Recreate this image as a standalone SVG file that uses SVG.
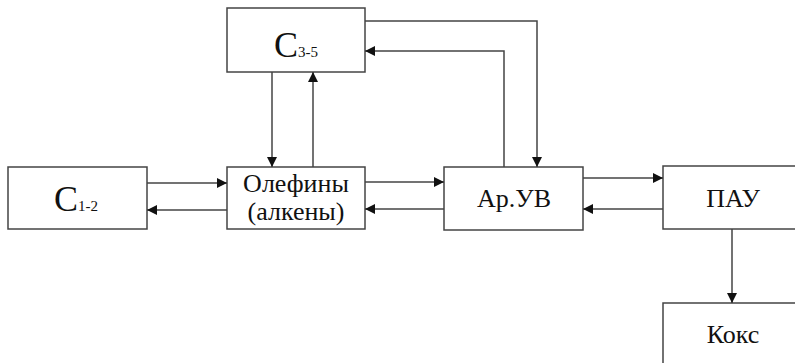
<svg xmlns="http://www.w3.org/2000/svg" width="795" height="363" viewBox="0 0 795 363">
<defs>
<marker id="ah" viewBox="0 0 10 10" refX="10" refY="5" markerWidth="10" markerHeight="10" markerUnits="userSpaceOnUse" orient="auto">
<path d="M0,0 L10,5 L0,10 z" fill="#111"/>
</marker>
<style>
.box{fill:#fff;stroke:#444;stroke-width:1.5}
.ln{fill:none;stroke:#444;stroke-width:1.5;marker-end:url(#ah)}
</style>
</defs>
<rect width="795" height="363" fill="#fff"/>
<g font-family="Liberation Serif" fill="#111">
<g id="c35"><rect class="box" x="227" y="8" width="138" height="64"/><text x="274" y="57" font-size="36">C<tspan font-size="15">3-5</tspan></text></g>
<g id="c12"><rect class="box" x="8" y="167" width="139" height="62"/><text x="54" y="211" font-size="36">C<tspan font-size="15">1-2</tspan></text></g>
<g id="olef"><rect class="box" x="227" y="167" width="138" height="62"/><text x="296" y="192" font-size="26" text-anchor="middle">Олефины</text><text x="296" y="220" font-size="26" text-anchor="middle">(алкены)</text></g>
<g id="arub"><rect class="box" x="444" y="167" width="139" height="63"/><text x="514" y="207" font-size="26" text-anchor="middle">Ар.УВ</text></g>
<g id="pau"><rect class="box" x="663" y="166" width="140" height="63"/><text x="733" y="207" font-size="26" text-anchor="middle">ПАУ</text></g>
<g id="koks"><rect class="box" x="663" y="303" width="140" height="70"/><text x="733" y="343" font-size="26" text-anchor="middle">Кокс</text></g>
</g>
<g id="connectors">
<path class="ln" d="M147,183 H227"/>
<path class="ln" d="M227,210 H147"/>
<path class="ln" d="M272,72 V167"/>
<path class="ln" d="M313,167 V72"/>
<path class="ln" d="M365,182 H444"/>
<path class="ln" d="M444,209 H365"/>
<path class="ln" d="M365,21 H537 V167"/>
<path class="ln" d="M504,167 V51 H365"/>
<path class="ln" d="M583,178 H663"/>
<path class="ln" d="M663,209 H583"/>
<path class="ln" d="M732,229 V303"/>
</g>
</svg>
